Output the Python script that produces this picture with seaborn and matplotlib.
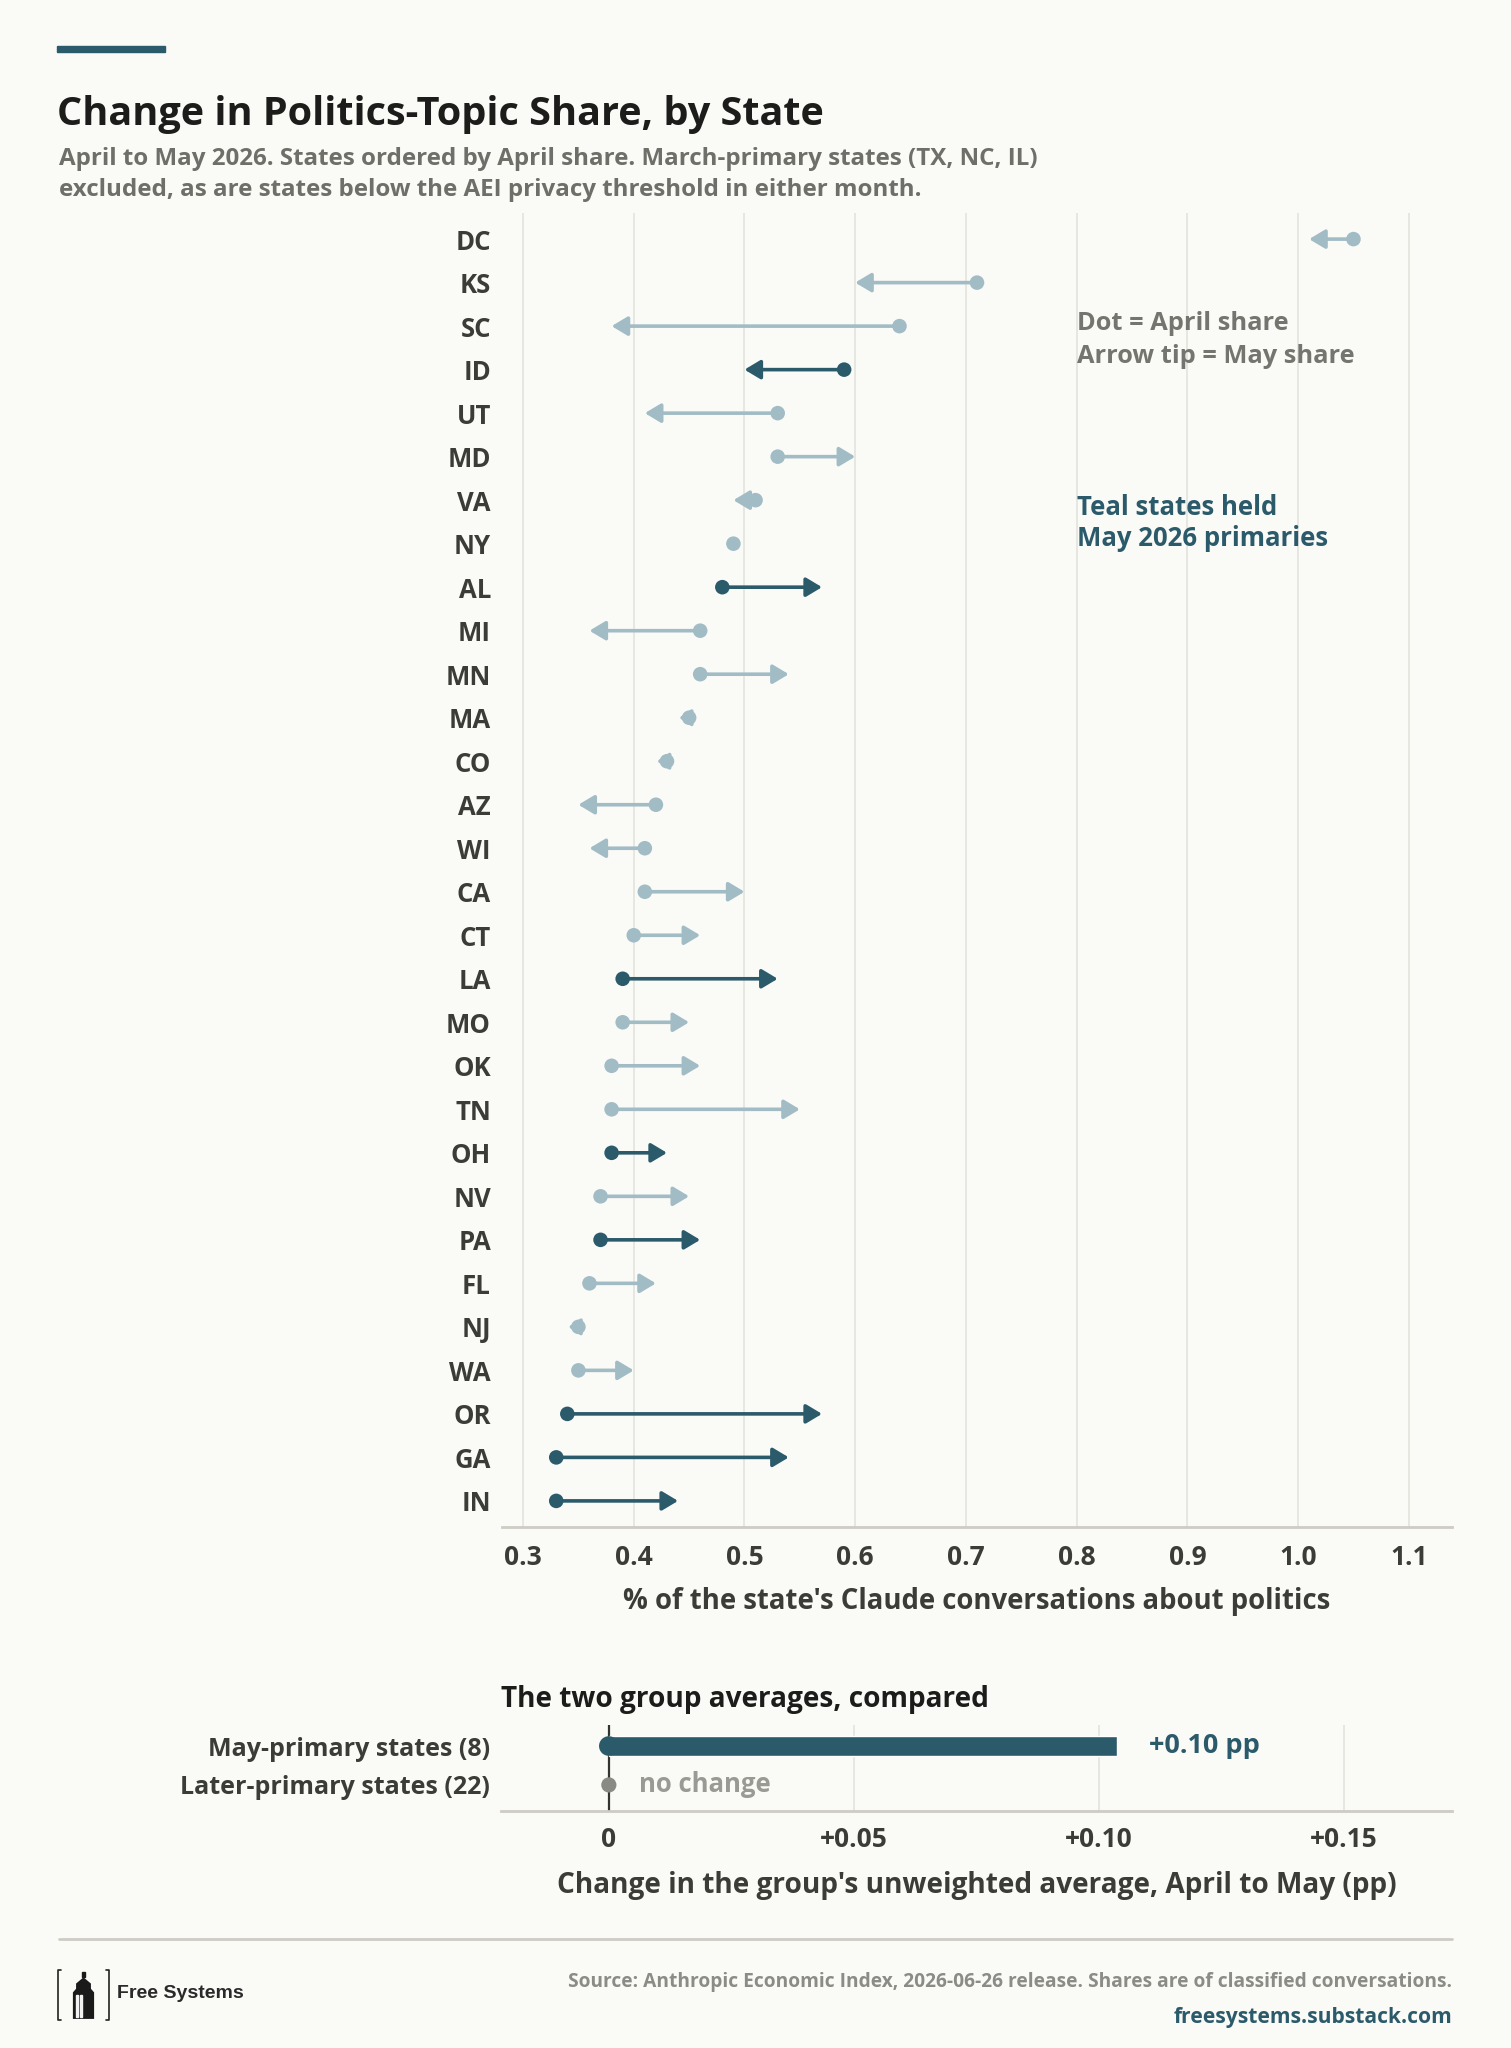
import numpy as np
import pandas as pd
import matplotlib
matplotlib.use("Agg")
import matplotlib.pyplot as plt
import seaborn as sns
from matplotlib.patches import Rectangle, Polygon
from matplotlib.lines import Line2D

# ---------------- data ----------------
states = ["DC", "KS", "SC", "ID", "UT", "MD", "VA", "NY", "AL", "MI",
          "MN", "MA", "CO", "AZ", "WI", "CA", "CT", "LA", "MO", "OK",
          "TN", "OH", "NV", "PA", "FL", "NJ", "WA", "OR", "GA", "IN"]
april = [1.05, 0.71, 0.64, 0.59, 0.53, 0.53, 0.51, 0.49, 0.48, 0.46,
         0.46, 0.45, 0.43, 0.42, 0.41, 0.41, 0.40, 0.39, 0.39, 0.38,
         0.38, 0.38, 0.37, 0.37, 0.36, 0.35, 0.35, 0.34, 0.33, 0.33]
may = [1.01, 0.60, 0.38, 0.50, 0.41, 0.60, 0.49, 0.49, 0.57, 0.36,
       0.54, 0.441, 0.421, 0.35, 0.36, 0.50, 0.46, 0.53, 0.45, 0.46,
       0.55, 0.43, 0.45, 0.46, 0.42, 0.341, 0.40, 0.57, 0.54, 0.44]
may_primary_states = ["ID", "AL", "LA", "OH", "PA", "OR", "GA", "IN"]
x_ticks = [0.3, 0.4, 0.5, 0.6, 0.7, 0.8, 0.9, 1.0, 1.1]
group_labels = ["May-primary states (8)", "Later-primary states (22)"]
bottom_ticks = [0, 0.05, 0.10, 0.15]
bottom_tick_labels = ["0", "+0.05", "+0.10", "+0.15"]

# ---------------- style ----------------
BG = "#fafaf7"
TEAL = "#2b5a6b"
LIGHT = "#a2bcc6"
GRID = "#e4e4de"
SPINE = "#cdcdc5"
DARK = "#1c1c1a"
SUB = "#6f6f69"
TICK = "#3b3b37"
NOTE = "#75756f"
NOCH = "#9a9a94"

sns.set_theme(style="white")
plt.rcParams['font.family'] = ['Open Sans', 'DejaVu Sans']
plt.rcParams['font.weight'] = 'bold'
plt.rcParams['axes.labelweight'] = 'bold'

W, H = 1511, 2048
fig = plt.figure(figsize=(W / 100, H / 100), dpi=100, facecolor=BG)


def fx(x):
    return x / W


def fy(y):
    return 1 - y / H


df = pd.DataFrame({"state": states, "april": april, "may": may})
df["group"] = np.where(df["state"].isin(may_primary_states), "May", "Later")
df["pos"] = np.arange(len(df))

# ---------------- main panel ----------------
ax_l, ax_r = 502, 1452
xlim = (0.281, 1.139)
ax = fig.add_axes([fx(ax_l), fy(1527), fx(ax_r) - fx(ax_l), fy(213) - fy(1527)])
ax.set_facecolor(BG)
pt_per_unit = (ax_r - ax_l) / (xlim[1] - xlim[0]) * 0.72
MS = 16

for _, r in df.iterrows():
    c = TEAL if r["group"] == "May" else LIGHT
    d = abs(r["may"] - r["april"])
    if d > 1e-9:
        length_pt = d * pt_per_unit
        hl = min(0.6, 0.95 * length_pt / MS)
        hw = 0.36 if hl >= 0.6 else 0.3
        ax.annotate("", xy=(r["may"], r["pos"]), xytext=(r["april"], r["pos"]),
                    arrowprops=dict(arrowstyle=f"-|>,head_length={hl:.3f},head_width={hw:.3f}",
                                    color=c, lw=2.6, shrinkA=0, shrinkB=0,
                                    mutation_scale=MS),
                    zorder=2)

sns.scatterplot(data=df, x="april", y="pos", hue="group",
                palette={"May": TEAL, "Later": LIGHT}, s=110, edgecolor="none",
                legend=False, ax=ax, zorder=3)

ax.set_xlim(*xlim)
ax.set_ylim(29.6, -0.6)
ax.set_xticks(x_ticks)
ax.set_xticklabels([f"{t:.1f}" for t in x_ticks])
ax.set_yticks(df["pos"])
ax.set_yticklabels(df["state"])
ax.grid(axis="x", color=GRID, lw=1.2)
ax.grid(axis="y", visible=False)
ax.set_axisbelow(True)
for s in ["left", "top", "right"]:
    ax.spines[s].set_visible(False)
ax.spines["bottom"].set_color(SPINE)
ax.spines["bottom"].set_linewidth(2)
ax.tick_params(axis="x", length=5, width=1, color=SPINE, pad=7,
               labelsize=19, labelcolor=TICK)
ax.tick_params(axis="y", length=0, pad=8, labelsize=18.5, labelcolor=TICK)
ax.set_xlabel("% of the state's Claude conversations about politics",
              fontsize=19.8, color=TICK, labelpad=12)
ax.set_ylabel("")

ax.text(0.80, 1.95, "Dot = April share", fontsize=18.3, color=NOTE, va="center")
ax.text(0.80, 2.69, "Arrow tip = May share", fontsize=18.3, color=NOTE, va="center")
ax.text(0.80, 6.18, "Teal states held", fontsize=18.5, color=TEAL, va="center")
ax.text(0.80, 6.89, "May 2026 primaries", fontsize=18.5, color=TEAL, va="center")

# ---------------- bottom panel ----------------
df["change"] = df["may"] - df["april"]
may_avg = df.loc[df["group"] == "May", "change"].mean()
later_avg = df.loc[df["group"] == "Later", "change"].mean()
bars = pd.DataFrame({"group": [group_labels[0]], "change": [may_avg]})

ax2 = fig.add_axes([fx(501), fy(1811), fx(1452) - fx(501), fy(1725) - fy(1811)])
ax2.set_facecolor(BG)
sns.barplot(data=bars, x="change", y="group", order=group_labels, color=TEAL,
            width=0.5, ax=ax2, orient="h", saturation=1, zorder=3)
ax2.scatter([0], [0], s=200, color=TEAL, edgecolor="none", zorder=4)
ax2.scatter([0], [1], s=120, color="#8a8a85", edgecolor="none", zorder=4)
ax2.axvline(0, color="#333330", lw=1.6, zorder=2)
ax2.text(may_avg + 0.0065, 0, f"{may_avg:+.2f} pp", fontsize=19.5, color=TEAL,
         va="center", ha="left")
ax2.text(0.0061, 1, "no change", fontsize=18.5, color=NOCH, va="center", ha="left")

ax2.set_xlim(-0.022, 0.172)
ax2.set_ylim(1.67, -0.54)
ax2.set_xticks(bottom_ticks)
ax2.set_xticklabels(bottom_tick_labels)
ax2.grid(axis="x", color=GRID, lw=1.2)
ax2.grid(axis="y", visible=False)
ax2.set_axisbelow(True)
for s in ["left", "top", "right"]:
    ax2.spines[s].set_visible(False)
ax2.spines["bottom"].set_color(SPINE)
ax2.spines["bottom"].set_linewidth(2)
ax2.tick_params(axis="x", length=0, pad=11, labelsize=19, labelcolor=TICK)
ax2.tick_params(axis="y", length=0, pad=8, labelsize=18, labelcolor=TICK)
ax2.set_xlabel("Change in the group's unweighted average, April to May (pp)",
               fontsize=20.2, color=TICK, labelpad=13)
ax2.set_ylabel("")

# ---------------- header ----------------
fig.add_artist(Rectangle((fx(57), fy(52)), fx(165) - fx(57), 6 / H,
                         color=TEAL, transform=fig.transFigure))
fig.text(fx(57), fy(115), "Change in Politics-Topic Share, by State",
         fontsize=28.5, color=DARK, va="center", ha="left")
fig.text(fx(59), fy(159),
         "April to May 2026. States ordered by April share. March-primary states (TX, NC, IL)",
         fontsize=17.4, color=SUB, va="center", ha="left")
fig.text(fx(59), fy(190),
         "excluded, as are states below the AEI privacy threshold in either month.",
         fontsize=17.4, color=SUB, va="center", ha="left")
fig.text(fx(501), fy(1700), "The two group averages, compared",
         fontsize=20.2, color=DARK, va="center", ha="left")

# ---------------- footer ----------------
fig.add_artist(Line2D([fx(59), fx(1452)], [fy(1939), fy(1939)], color=SPINE, lw=2,
                      transform=fig.transFigure))
fig.text(fx(1452), fy(1982),
         "Source: Anthropic Economic Index, 2026-06-26 release. Shares are of classified conversations.",
         fontsize=13.8, color="#8c8c86", va="center", ha="right")
fig.text(fx(1452), fy(2017), "freesystems.substack.com",
         fontsize=15.1, color=TEAL, va="center", ha="right")

# logo
lax = fig.add_axes([fx(57), fy(2021), fx(110) - fx(57), fy(1969) - fy(2021)])
lax.set_xlim(0, 1)
lax.set_ylim(0, 1)
lax.axis("off")
for xs in ([0.08, 0.02, 0.02, 0.08], [0.92, 0.98, 0.98, 0.92]):
    lax.plot(xs, [0.02, 0.02, 0.98, 0.98], color="#222222", lw=1.2)
lax.add_patch(Polygon([[0.30, 0.04], [0.30, 0.55], [0.36, 0.62], [0.36, 0.72],
                       [0.50, 0.84], [0.64, 0.72], [0.64, 0.62], [0.70, 0.55],
                       [0.70, 0.04]], closed=True, facecolor="#1a1a1a",
                      edgecolor="none"))
lax.add_patch(Rectangle((0.48, 0.84), 0.04, 0.1, color="#1a1a1a"))
for xx in [0.36, 0.44]:
    lax.add_patch(Rectangle((xx, 0.08), 0.04, 0.42, color="#f2f2f2"))
fig.text(fx(117), fy(1994), "Free Systems", fontsize=14, color="#2a2a2a",
         va="center", ha="left", family=["Liberation Sans", "DejaVu Sans"])

fig.savefig("out.png", dpi=100, facecolor=BG)
